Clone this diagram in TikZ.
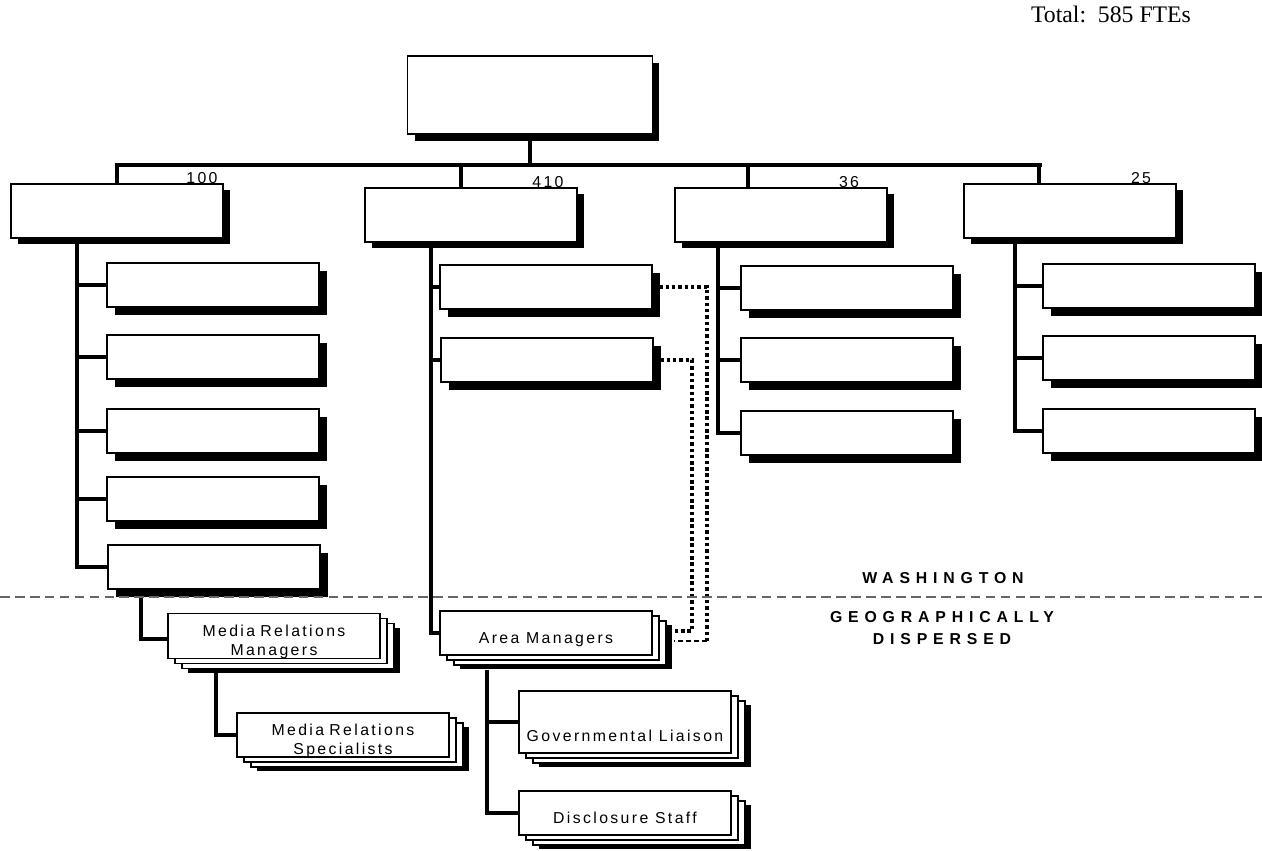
\documentclass[tikz,border=0pt]{standalone}
\usepackage{fontspec}
\setmainfont{Liberation Sans}
\newfontfamily\totalfont{Liberation Serif}
\newfontfamily\boxfont[LetterSpace=15]{Liberation Sans}
\newfontfamily\numfont[LetterSpace=15]{Liberation Sans}
\newfontfamily\placefont[LetterSpace=37]{Liberation Sans}
\usetikzlibrary{shadows}

\begin{document}
\begin{tikzpicture}[
    x=0.02cm, y=-0.02cm,
    chiefbox/.style={draw, line width=1.1pt, fill=white, inner sep=0pt, minimum width=4.9cm, minimum height=1.56cm,
        drop shadow={shadow xshift=0.14cm, shadow yshift=-0.14cm, fill=black, opacity=1}},
    headbox/.style={draw, line width=1.1pt, fill=white, inner sep=0pt, minimum width=4.24cm, minimum height=1.08cm,
        drop shadow={shadow xshift=0.14cm, shadow yshift=-0.12cm, fill=black, opacity=1}},
    unitbox/.style={draw, line width=1.1pt, fill=white, inner sep=0pt, minimum width=4.24cm, minimum height=0.88cm,
        drop shadow={shadow xshift=0.16cm, shadow yshift=-0.16cm, fill=black, opacity=1}},
    stackbox/.style={draw, line width=1.1pt, fill=white, inner sep=0pt, minimum width=4.24cm, minimum height=0.88cm,
        text height=0.65cm, text depth=0.23cm, align=center, font=\boxfont\fontsize{9}{11}\selectfont,
        drop shadow={shadow xshift=0.4cm, shadow yshift=-0.28cm, fill=black, opacity=1},
        copy shadow={shadow xshift=0.28cm, shadow yshift=-0.2cm, draw=black, fill=white},
        copy shadow={shadow xshift=0.14cm, shadow yshift=-0.1cm, draw=black, fill=white}},
    twoline/.style={text width=4.24cm, text height=0.45cm, text depth=0.44cm},
    num/.style={anchor=base, inner sep=0pt, font=\numfont\fontsize{9}{10}\selectfont},
    place/.style={align=center, font=\placefont\bfseries\fontsize{9}{13}\selectfont},
    trunk/.style={line width=2.5pt},
    stub/.style={line width=1.9pt},
    busline/.style={line width=1.9pt},
    dots/.style={line width=2pt, dash pattern=on 2pt off 1.6pt},
    thindash/.style={line width=0.8pt, dash pattern=on 3pt off 1.5pt},
    sep/.style={line width=0.6pt, black!60, dash pattern=on 5.5pt off 3pt}
]
    \useasboundingbox (0,0) rectangle (1262,850);

    % Total
    \node[font=\totalfont\fontsize{13.5}{16}\selectfont] (total) at (1111,14) {Total:\ \ 585 FTEs};

    % Top box
    \node[chiefbox] (chief) at (530,95) {};

    % Heads
    \node[headbox] (h1) at (117,211) {};
    \node[headbox] (h2) at (471,215) {};
    \node[headbox] (h3) at (781,215) {};
    \node[headbox] (h4) at (1070,211) {};

    \node[num] (n1) at ([xshift=1.7cm]h1.north) {100};
    \node[num] (n2) at ([xshift=1.54cm]h2.north) {410};
    \node[num] (n3) at ([xshift=1.36cm]h3.north) {36};
    \node[num] (n4) at ([xshift=1.42cm]h4.north) {25};

    % Units
    \node[unitbox] (c11) at (213,285) {};
    \node[unitbox] (c12) at (213,357) {};
    \node[unitbox] (c13) at (213,431) {};
    \node[unitbox] (c14) at (213,499) {};
    \node[unitbox] (c15) at (214,567) {};

    \node[unitbox] (c21) at (546,287) {};
    \node[unitbox] (c22) at (547,360) {};

    \node[unitbox] (c31) at (847,288) {};
    \node[unitbox] (c32) at (847,360) {};
    \node[unitbox] (c33) at (847,433) {};

    \node[unitbox] (c41) at (1149,286) {};
    \node[unitbox] (c42) at (1149,358) {};
    \node[unitbox] (c43) at (1149,431) {};

    % Field staff
    \node[stackbox, twoline, text height=0.46cm, minimum height=0.9cm] (mrm) at (274,636) {Media Relations\\Managers};
    \node[stackbox, twoline] (mrs) at (343,735) {Media Relations\\Specialists};
    \node[stackbox] (am) at (546,633) {Area Managers};
    \node[stackbox, minimum height=1.24cm, text height=1cm, text depth=0.24cm] (gl) at (625,722) {Governmental Liaison};
    \node[stackbox] (ds) at (625,813) {Disclosure Staff};

    % Bus
    \coordinate (bus) at (0,165);
    \draw[trunk] (chief.south) -- (chief.south |- bus);
    \draw[busline] ([xshift=-0.04cm]h1.north |- bus) -- ([xshift=-0.56cm]h4.north |- bus);
    \draw[trunk] (h1.north) -- (h1.north |- bus);
    \draw[trunk] ([xshift=-0.2cm]h2.north) -- ([xshift=-0.2cm]h2.north |- bus);
    \draw[trunk] ([xshift=-0.66cm]h3.north) -- ([xshift=-0.66cm]h3.north |- bus);
    \draw[trunk] ([xshift=-0.62cm]h4.north) -- ([xshift=-0.62cm]h4.north |- bus);

    % Trunks
    \coordinate (t1) at ([xshift=-0.8cm]h1.south);
    \coordinate (t2) at ([xshift=-0.8cm]h2.south);
    \coordinate (t3) at ([xshift=-1.26cm]h3.south);
    \coordinate (t4) at ([xshift=-1.1cm]h4.south);
    \coordinate (t5) at ([xshift=-1.18cm,yshift=-0.28cm]am.south);

    \draw[trunk] (t1) |- (c15.west);
    \foreach \n in {c11,c12,c13,c14} \draw[stub] (\n.west) -- (\n.west -| t1);
    \draw[trunk] (t2) |- (am.west);
    \foreach \n in {c21,c22} \draw[stub] (\n.west) -- (\n.west -| t2);
    \draw[trunk] (t3) |- (c33.west);
    \foreach \n in {c31,c32} \draw[stub] (\n.west) -- (\n.west -| t3);
    \draw[trunk] (t4) |- (c43.west);
    \foreach \n in {c41,c42} \draw[stub] (\n.west) -- (\n.west -| t4);

    \draw[trunk] ([xshift=-1.46cm]c15.south) |- ([yshift=-0.06cm]mrm.west);
    \draw[trunk] ([xshift=-1.16cm,yshift=-0.28cm]mrm.south) |- (mrs.west);
    \draw[trunk] (t5) |- (ds.west);
    \draw[stub] (gl.west) -- (gl.west -| t5);

    % Dotted links
    \coordinate (amout) at ([xshift=0.42cm,yshift=-0.16cm]am.east);
    \coordinate (amin) at ([xshift=0.42cm,yshift=0.04cm]am.east);
    \draw[dots] (c21.east) -| ([xshift=1.08cm]c21.east |- amout);
    \draw[thindash] ([xshift=1.08cm]c21.east |- amout) -- (amout);
    \draw[dots] (c22.east) -| ([xshift=0.76cm]c22.east |- amin) -- (amin);

    % Washington line
    \draw[sep] (0,597) -- (1262,597);
    \node[place] (wash) at (943,578) {WASHINGTON};
    \node[place] (geo) at (942,628) {GEOGRAPHICALLY\\DISPERSED};

\end{tikzpicture}
\end{document}
